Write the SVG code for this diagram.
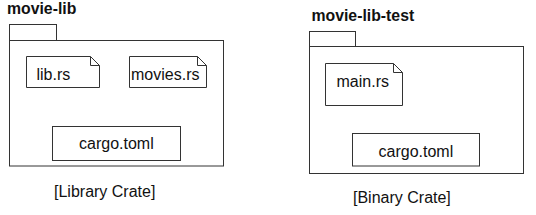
<svg xmlns="http://www.w3.org/2000/svg" width="536" height="215" viewBox="0 0 536 215">
<style>
.shape{fill:#fff;stroke:#333;stroke-width:1}
.t{font-family:"Liberation Sans",Arial,sans-serif;font-size:16px;fill:#111}
.title{font-family:"Liberation Sans",Arial,sans-serif;font-size:15.8px;font-weight:bold;fill:#111}
</style>
<rect width="536" height="215" fill="#fff"/>
<g id="pkg-movie-lib">
<text class="title" x="7" y="14">movie-lib</text>
<rect class="shape" x="9.5" y="24.5" width="47" height="16"/>
<rect class="shape" x="9.5" y="40.5" width="214" height="125.5"/>
<text class="t" x="54" y="197">[Library Crate]</text>
</g>
<g id="lib-rs">
<path class="shape" d="M26.5 56.5 H90.5 L99.5 65.5 V87.5 H26.5 Z M90.5 56.5 V65.5 H99.5"/>
<text class="t" x="36.5" y="79.5">lib.rs</text>
</g>
<g id="movies-rs">
<path class="shape" d="M129.5 56.5 H197.5 L206.5 65.5 V87.5 H129.5 Z M197.5 56.5 V65.5 H206.5"/>
<text class="t" x="131" y="79.5">movies.rs</text>
</g>
<g id="cargo-lib">
<rect class="shape" x="52.5" y="126.5" width="128" height="34"/>
<text class="t" x="79" y="148.5">cargo.toml</text>
</g>
<g id="pkg-movie-lib-test">
<text class="title" x="311.5" y="21">movie-lib-test</text>
<rect class="shape" x="309.5" y="31.5" width="46" height="15"/>
<rect class="shape" x="309.5" y="46.5" width="214" height="127"/>
<text class="t" x="353" y="203">[Binary Crate]</text>
</g>
<g id="main-rs">
<path class="shape" d="M325.5 63.5 H393.5 L402.5 72.5 V105.5 H325.5 Z M393.5 63.5 V72.5 H402.5"/>
<text class="t" x="336.5" y="87">main.rs</text>
</g>
<g id="cargo-test">
<rect class="shape" x="352.5" y="133.5" width="127" height="32.5"/>
<text class="t" x="378.5" y="156.5">cargo.toml</text>
</g>
<g id="connectors"></g>
</svg>
